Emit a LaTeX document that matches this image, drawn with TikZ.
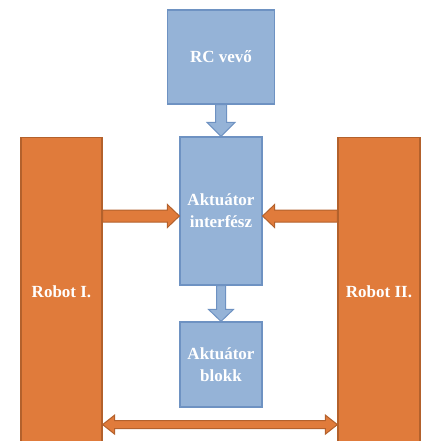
\documentclass[tikz,border=0pt]{standalone}
\usepackage{fontspec}
\setmainfont{Liberation Serif}
\usetikzlibrary{calc}
\definecolor{bfill}{HTML}{95B3D7}
\definecolor{bline}{HTML}{6E92C2}
\definecolor{ofill}{HTML}{E07B3B}
\definecolor{oline}{HTML}{B3612C}
\tikzset{
  lbl/.style={text=white, align=center, font=\bfseries\fontsize{17}{22}\selectfont},
  bbox/.style={lbl, draw=bline, fill=bfill, line width=1.2pt, inner sep=0pt},
  obox/.style={draw=oline, fill=ofill, line width=1.2pt, inner sep=0pt},
  barrow/.style={draw=bline, fill=bfill, line width=1pt, line join=miter},
  oarrow/.style={draw=oline, fill=ofill, line width=1pt, line join=miter},
}
\begin{document}
\begin{tikzpicture}[x=1pt,y=-1pt]
\useasboundingbox (0,0) rectangle (424,441);
\node[bbox, minimum width=107pt, minimum height=94pt] (rc) at (221,57) {RC vevő};
\node[bbox, minimum width=82pt, minimum height=148pt] (ai) at (221,211) {Aktuátor\\interfész};
\node[bbox, minimum width=82pt, minimum height=85pt] (ab) at (221,364.5) {Aktuátor\\blokk};
\node[obox, minimum width=81pt, minimum height=310pt, anchor=north] (r1) at (61.5,137) {};
\node[obox, minimum width=82pt, minimum height=310pt, anchor=north] (r2) at (379,137) {};
\node[lbl] (r1t) at (61.5,292) {Robot I.};
\node[lbl] (r2t) at (379,292) {Robot II.};
% RC -> interface
\filldraw[barrow] ([xshift=-5.5pt]rc.south) -- ([xshift=-5.5pt,yshift=14pt]ai.north)
  -- ([xshift=-14pt,yshift=14pt]ai.north) -- (ai.north)
  -- ([xshift=14pt,yshift=14pt]ai.north) -- ([xshift=5.5pt,yshift=14pt]ai.north)
  -- ([xshift=5.5pt]rc.south) -- cycle;
% interface -> block
\filldraw[barrow] ([xshift=-4.5pt]ai.south) -- ([xshift=-4.5pt,yshift=12pt]ab.north)
  -- ([xshift=-12.5pt,yshift=12pt]ab.north) -- (ab.north)
  -- ([xshift=12.5pt,yshift=12pt]ab.north) -- ([xshift=4.5pt,yshift=12pt]ab.north)
  -- ([xshift=4.5pt]ai.south) -- cycle;
% Robot I -> interface
\coordinate (l1) at ($(r1.east|-ai.center)+(0,5)$);
\coordinate (l2) at ($(ai.west|-ai.center)+(0,5)$);
\filldraw[oarrow] ([yshift=6pt]l1) -- ([xshift=-12pt,yshift=6pt]l2)
  -- ([xshift=-12pt,yshift=11.5pt]l2) -- (l2)
  -- ([xshift=-12pt,yshift=-11.5pt]l2) -- ([xshift=-12pt,yshift=-6pt]l2)
  -- ([yshift=-6pt]l1) -- cycle;
% Robot II -> interface
\coordinate (m1) at ($(r2.west|-ai.center)+(0,5)$);
\coordinate (m2) at ($(ai.east|-ai.center)+(0,5)$);
\filldraw[oarrow] ([yshift=6pt]m1) -- ([xshift=12pt,yshift=6pt]m2)
  -- ([xshift=12pt,yshift=11.5pt]m2) -- (m2)
  -- ([xshift=12pt,yshift=-11.5pt]m2) -- ([xshift=12pt,yshift=-6pt]m2)
  -- ([yshift=-6pt]m1) -- cycle;
% Robot I <-> Robot II
\coordinate (b1) at ($(r1.east|-ab.south)+(0,17)$);
\coordinate (b2) at ($(r2.west|-ab.south)+(0,17)$);
\filldraw[oarrow] (b1) -- ([xshift=12pt,yshift=9.5pt]b1) -- ([xshift=12pt,yshift=4pt]b1)
  -- ([xshift=-12pt,yshift=4pt]b2) -- ([xshift=-12pt,yshift=9.5pt]b2) -- (b2)
  -- ([xshift=-12pt,yshift=-9.5pt]b2) -- ([xshift=-12pt,yshift=-4pt]b2)
  -- ([xshift=12pt,yshift=-4pt]b1) -- ([xshift=12pt,yshift=-9.5pt]b1) -- cycle;
\end{tikzpicture}
\end{document}
